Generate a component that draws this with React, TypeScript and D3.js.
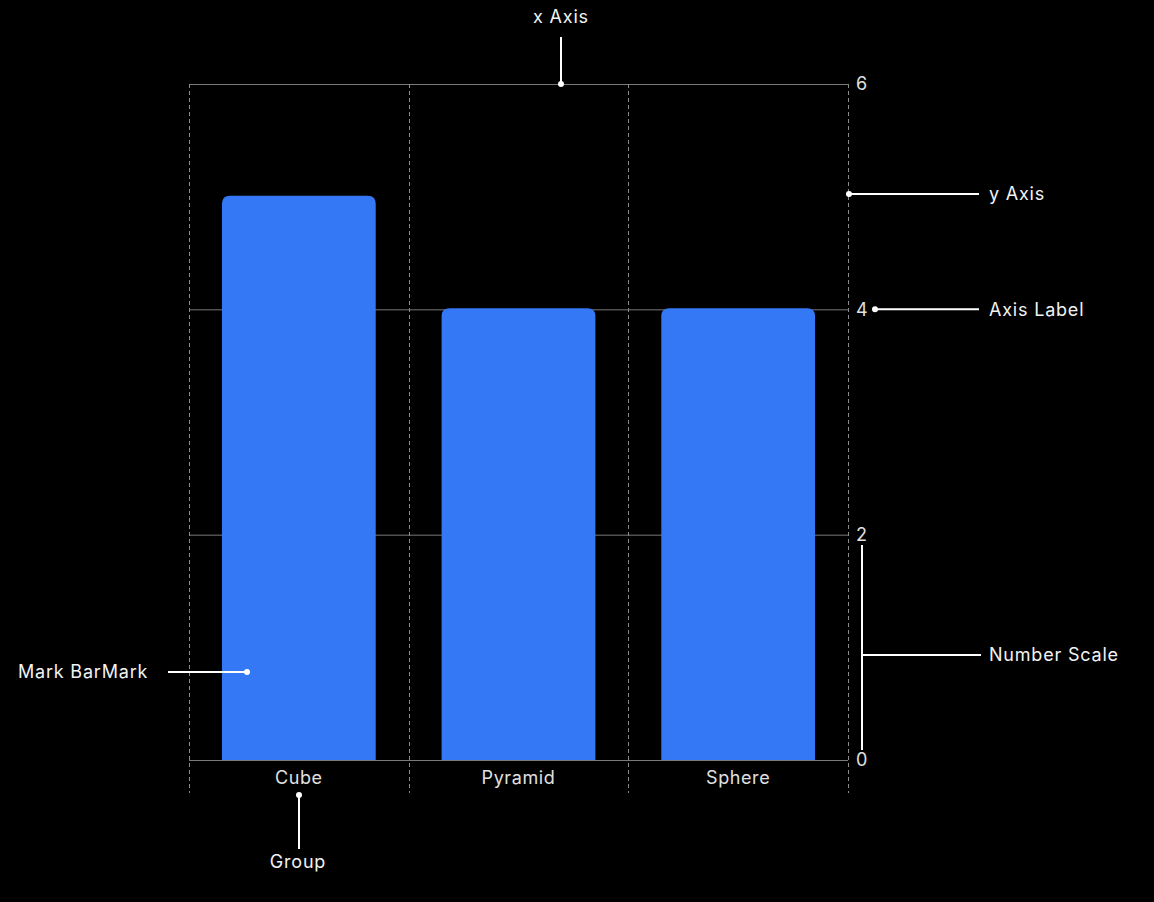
import React, { useRef, useEffect } from 'react';
import * as d3 from 'd3';

const categories = ['Cube', 'Pyramid', 'Sphere'];
const values = [5, 4, 4];
const yTicks = [0, 2, 4, 6];

const App: React.FC = () => {
  const ref = useRef<SVGSVGElement | null>(null);

  useEffect(() => {
    if (!ref.current) return;
    const svg = d3.select(ref.current);
    const width = 1154;
    const height = 902;
    const margin = { top: 84, right: 306, bottom: 142, left: 189 };
    const font = 'Inter, "Noto Sans", sans-serif';

    svg.selectAll('*').remove();
    svg.attr('width', width).attr('height', height);
    svg.append('rect').attr('width', width).attr('height', height).attr('fill', '#000');

    const x = d3.scaleBand<string>().domain(categories).range([margin.left, width - margin.right]).padding(0);
    const y = d3.scaleLinear().domain([0, 6]).range([height - margin.bottom, margin.top]);
    const x0 = margin.left;
    const x1 = width - margin.right;

    // horizontal grid
    svg.append('g')
      .selectAll('line')
      .data(yTicks)
      .enter()
      .append('line')
      .attr('x1', x0)
      .attr('x2', x1)
      .attr('y1', d => y(d) + 0.5)
      .attr('y2', d => y(d) + 0.5)
      .attr('stroke', '#7a7a7a')
      .attr('stroke-width', 1);

    // vertical dashed band boundaries
    const bounds = categories.map(c => x(c) as number).concat([x1]);
    svg.append('g')
      .selectAll('line')
      .data(bounds)
      .enter()
      .append('line')
      .attr('x1', d => Math.round(d) + 0.5)
      .attr('x2', d => Math.round(d) + 0.5)
      .attr('y1', y(6))
      .attr('y2', y(0) + 33)
      .attr('stroke', '#8a8a8a')
      .attr('stroke-width', 1)
      .attr('stroke-dasharray', '4,3');

    // bars with rounded top corners
    const bw = x.bandwidth() * 0.7;
    const r = 8;
    svg.append('g')
      .selectAll('path')
      .data(values)
      .enter()
      .append('path')
      .attr('d', (d, i) => {
        const left = (x(categories[i]) as number) + (x.bandwidth() - bw) / 2;
        const right = left + bw;
        const top = y(d) - 1;
        const bottom = y(0);
        return `M${left},${bottom}V${top + r}Q${left},${top} ${left + r},${top}H${right - r}Q${right},${top} ${right},${top + r}V${bottom}Z`;
      })
      .attr('fill', '#3478f6');

    // y tick labels
    svg.append('g')
      .selectAll('text')
      .data(yTicks)
      .enter()
      .append('text')
      .attr('x', x1 + 8)
      .attr('y', d => y(d))
      .attr('dy', '0.35em')
      .attr('fill', '#e0e0e0')
      .attr('font-family', font)
      .attr('font-size', 18)
      .text(d => d);

    // category labels
    svg.append('g')
      .selectAll('text')
      .data(categories)
      .enter()
      .append('text')
      .attr('x', d => (x(d) as number) + x.bandwidth() / 2)
      .attr('y', y(0) + 18)
      .attr('dy', '0.35em')
      .attr('text-anchor', 'middle')
      .attr('fill', '#e0e0e0')
      .attr('font-family', font)
      .attr('font-size', 18)
      .attr('letter-spacing', 0.6)
      .text(d => d);

    // annotations
    const ann = svg.append('g').attr('stroke', '#fff').attr('stroke-width', 2);
    const dot = (cx: number, cy: number) =>
      svg.append('circle').attr('cx', cx).attr('cy', cy).attr('r', 3).attr('fill', '#fff');
    const label = (tx: number, ty: number, t: string, anchor = 'start') =>
      svg.append('text')
        .attr('x', tx)
        .attr('y', ty)
        .attr('dy', '0.35em')
        .attr('text-anchor', anchor)
        .attr('fill', '#f2f2f2')
        .attr('font-family', font)
        .attr('font-size', 18)
        .attr('letter-spacing', 0.8)
        .text(t);

    // x Axis
    ann.append('line').attr('x1', 561).attr('x2', 561).attr('y1', 37).attr('y2', y(6));
    dot(561, y(6));
    label(561, 17, 'x Axis', 'middle');

    // y Axis
    ann.append('line').attr('x1', x1).attr('x2', 979).attr('y1', 194).attr('y2', 194);
    dot(x1 + 1, 194);
    label(989, 194, 'y Axis');

    // Axis Label
    ann.append('line').attr('x1', 875).attr('x2', 979).attr('y1', y(4)).attr('y2', y(4));
    dot(875, y(4));
    label(989, y(4), 'Axis Label');

    // Number Scale
    ann.append('line').attr('x1', 862).attr('x2', 862).attr('y1', 545).attr('y2', 750);
    ann.append('line').attr('x1', 862).attr('x2', 981).attr('y1', 655).attr('y2', 655);
    label(989, 655, 'Number Scale');

    // Mark BarMark
    ann.append('line').attr('x1', 168).attr('x2', 247).attr('y1', 672).attr('y2', 672);
    dot(247, 672);
    label(18, 672, 'Mark BarMark');

    // Group
    ann.append('line').attr('x1', 299).attr('x2', 299).attr('y1', 795).attr('y2', 849);
    dot(299, 795);
    label(298, 862, 'Group', 'middle');
  }, []);

  return <svg ref={ref} style={{ position: 'absolute', top: 0, left: 0, display: 'block' }}></svg>;
};

export default App;
